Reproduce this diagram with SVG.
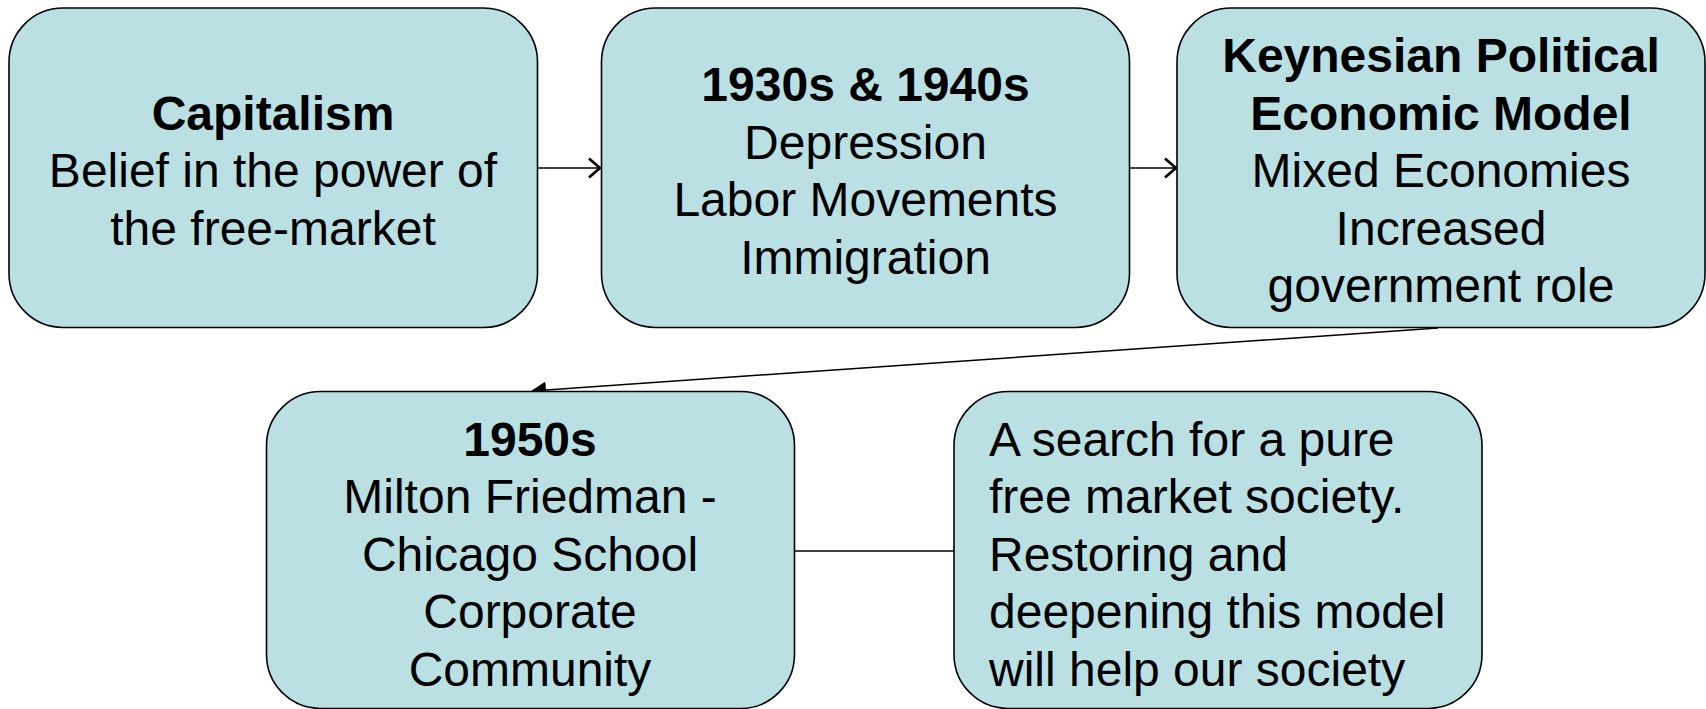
<svg xmlns="http://www.w3.org/2000/svg" width="1706" height="709" viewBox="0 0 1706 709">
<style>
.box{fill:#BBE0E3;stroke:#000;stroke-width:1.6}
text{font-family:"Liberation Sans",Arial,sans-serif;font-size:48px;fill:#000}
.c{text-anchor:middle}
.b{font-weight:bold}
.conn{stroke:#000;stroke-width:1.5;fill:none}
</style>
<defs>
<marker id="open" viewBox="0 0 14 22" refX="12.5" refY="11" markerWidth="14" markerHeight="22" markerUnits="userSpaceOnUse" orient="auto">
<path d="M1.5,1.5 L12.5,11 L1.5,20.5" fill="none" stroke="#000" stroke-width="2.8"/>
</marker>
<marker id="fill" viewBox="0 0 15 17" refX="14" refY="8.5" markerWidth="15" markerHeight="17" markerUnits="userSpaceOnUse" orient="auto">
<path d="M0,0 L15,8.5 L0,17 Z" fill="#000"/>
</marker>
</defs>
<rect width="1706" height="709" fill="#fff"/>
<g id="connectors">
<line class="conn" x1="538" y1="168" x2="600" y2="168" marker-end="url(#open)"/>
<line class="conn" x1="1130" y1="168" x2="1176" y2="168" marker-end="url(#open)"/>
<line class="conn" x1="1438" y1="328" x2="532" y2="391" marker-end="url(#fill)"/>
<line class="conn" x1="794" y1="551" x2="954" y2="551"/>
</g>
<g id="capitalism">
<rect class="box" x="9" y="8" width="528.5" height="319.5" rx="54"/>
<text class="c b" x="273" y="129.5">Capitalism</text>
<text class="c" x="273" y="187">Belief in the power of</text>
<text class="c" x="273" y="244.5">the free-market</text>
</g>
<g id="depression">
<rect class="box" x="601.5" y="8" width="528" height="319.5" rx="54"/>
<text class="c b" x="865.5" y="101">1930s &amp; 1940s</text>
<text class="c" x="865.5" y="158.5">Depression</text>
<text class="c" x="865.5" y="216">Labor Movements</text>
<text class="c" x="865.5" y="273.5">Immigration</text>
</g>
<g id="keynesian">
<rect class="box" x="1177" y="8" width="528" height="319.5" rx="54"/>
<text class="c b" x="1441" y="72">Keynesian Political</text>
<text class="c b" x="1441" y="129.5">Economic Model</text>
<text class="c" x="1441" y="187">Mixed Economies</text>
<text class="c" x="1441" y="244.5">Increased</text>
<text class="c" x="1441" y="302">government role</text>
</g>
<g id="friedman">
<rect class="box" x="266.5" y="391.5" width="528" height="317" rx="54"/>
<text class="c b" x="530" y="455.7">1950s</text>
<text class="c" x="530" y="513.2">Milton Friedman -</text>
<text class="c" x="530" y="570.7">Chicago School</text>
<text class="c" x="530" y="628.2">Corporate</text>
<text class="c" x="530" y="685.7">Community</text>
</g>
<g id="search">
<rect class="box" x="954" y="391.5" width="528" height="317" rx="54"/>
<text x="989" y="455.7">A search for a pure</text>
<text x="989" y="513.2">free market society.</text>
<text x="989" y="570.7">Restoring and</text>
<text x="989" y="628.2">deepening this model</text>
<text x="989" y="685.7">will help our society</text>
</g>
</svg>
